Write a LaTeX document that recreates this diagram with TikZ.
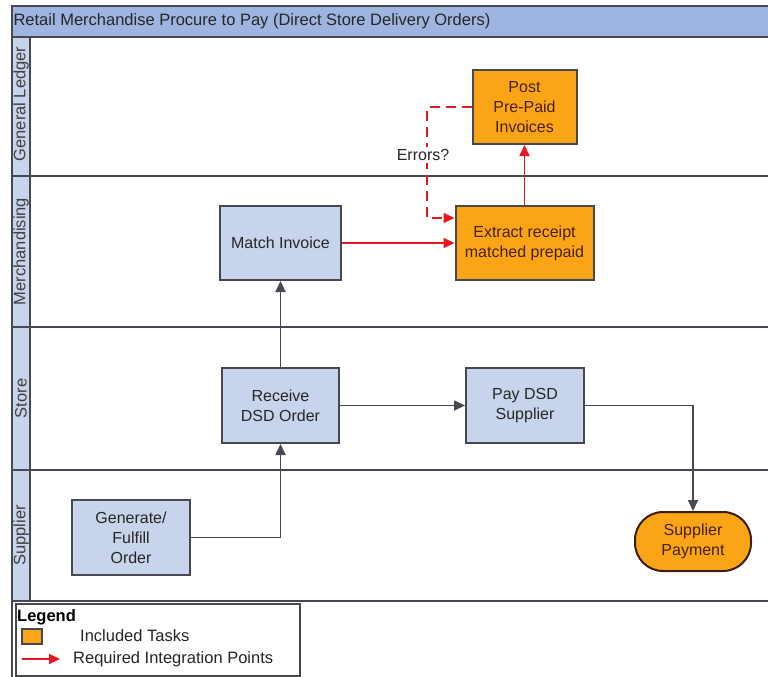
\documentclass[tikz,border=0pt]{standalone}
\usepackage{fontspec}
\setmainfont{Liberation Sans}
\usepackage{xcolor}
\usetikzlibrary{arrows.meta}
\definecolor{laneblue}{RGB}{199,212,235}
\definecolor{titleblue}{RGB}{157,181,224}
\definecolor{taskorange}{RGB}{250,164,22}
\definecolor{linegray}{RGB}{72,72,82}
\definecolor{flowred}{RGB}{232,22,32}

\begin{document}
\begin{tikzpicture}[x=1pt,y=-1pt,
    task/.style={draw=linegray,line width=2pt,fill=laneblue,align=center,
      font=\fontsize{16}{20}\selectfont,text=black!85,inner sep=0pt},
    included/.style={task,fill=taskorange,text={rgb,255:red,70;green,35;blue,5}},
    flow/.style={draw=linegray,line width=1.7pt,-{Triangle[length=11pt,width=10pt]}},
    integ/.style={flow,draw=flowred},
    lane/.style={rotate=90,font=\fontsize{16.5}{18}\selectfont,text=black!75}]
  \useasboundingbox (0,0) rectangle (768,677);
  \fill[white] (0,0) rectangle (768,677);
  % frame, title band and swimlanes
  \draw[fill=titleblue,draw=linegray,line width=2.5pt] (12,6) rectangle (772,37);
  \node[anchor=west,font=\fontsize{16.5}{18}\selectfont,text=black!85] (title) at (10,21.5)
    {Retail Merchandise Procure to Pay (Direct Store Delivery Orders)};
  \draw[fill=laneblue,draw=linegray,line width=2.5pt] (12,37) rectangle (30,601);
  \foreach \y in {176,327,470,601}
    \draw[linegray,line width=2.5pt] (12,\y) -- (772,\y);
  \draw[linegray,line width=2.5pt] (12,601) -- (12,680);
  \node[lane] (gl) at (21,104) {General Ledger};
  \node[lane] (merch) at (21,251.5) {Merchandising};
  \node[lane] (store) at (21,398.5) {Store};
  \node[lane] (supp) at (21,535.5) {Supplier};

  % tasks
  \node[included,minimum width=104pt,minimum height=74pt] (post) at (524.5,107) {Post\\Pre-Paid\\Invoices};
  \node[task,minimum width=121pt,minimum height=74pt] (match) at (280.5,243) {Match Invoice};
  \node[included,minimum width=138pt,minimum height=74pt] (extract) at (524.5,243) {Extract receipt\\matched prepaid};
  \node[task,minimum width=117pt,minimum height=75pt] (recv) at (280.5,405.5) {Receive\\DSD Order};
  \node[task,minimum width=118pt,minimum height=75pt] (pay) at (525,405.5) {Pay DSD\\Supplier};
  \node[task,minimum width=118pt,minimum height=75pt] (gen) at (131,537.5) {Generate/\\Fulfill\\Order};
  \node[included,draw={rgb,255:red,60;green,30;blue,10},minimum width=116pt,minimum height=59pt,
    rounded corners=28pt] (spay) at (693,541.5) {Supplier\\Payment};

  % connectors
  \draw[flow] (gen.east) -| (recv.south);
  \draw[flow] (recv.north) -- (match.south);
  \draw[flow] (recv.east) -- (pay.west);
  \draw[flow] (pay.east) -| (spay.north);
  \draw[integ] (match.east) -- (extract.west);
  \draw[integ] (extract.north) -- (post.south);
  \draw[integ,dash pattern=on 10pt off 6pt] (post.west) -| (427,200) |- ([yshift=25pt]extract.west);
  \node[fill=white,font=\fontsize{16}{20}\selectfont,text=black!85,inner sep=2pt] (errors) at (423,155) {Errors?};

  % legend
  \draw[draw=linegray,line width=2pt,fill=white] (16,604) rectangle (300,676);
  \node[anchor=west,font=\fontsize{16.5}{18}\selectfont\bfseries,inner sep=0pt] (legend) at (17,617) {Legend};
  \node[included,minimum width=20pt,minimum height=15pt] (swatch) at (32,636) {};
  \node[anchor=west,font=\fontsize{16.5}{18}\selectfont,inner sep=0pt,text=black!85] (inc) at (80,636) {Included Tasks};
  \coordinate (tail) at (22,659);
  \coordinate (head) at (60,659);
  \draw[integ] (tail) -- (head);
  \node[anchor=west,font=\fontsize{16.5}{18}\selectfont,inner sep=0pt,text=black!85] (req) at (73,659) {Required Integration Points};
\end{tikzpicture}
\end{document}
